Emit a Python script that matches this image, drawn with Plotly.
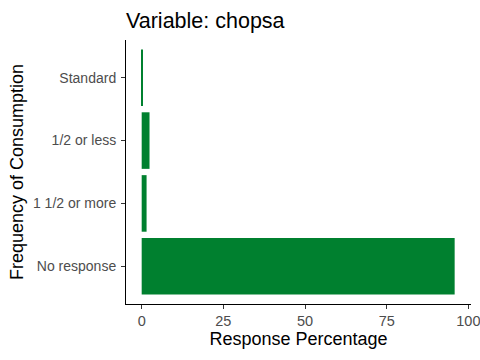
import plotly.graph_objects as go

categories = ["No response", "1 1/2 or more", "1/2 or less", "Standard"]
values = [95.8, 1.5, 2.4, 0.35]
x_ticks = [0, 25, 50, 75, 100]

fig = go.Figure(go.Bar(
    x=values, y=categories, orientation="h",
    marker=dict(color="#00802F", line=dict(width=0)),
))

fig.update_layout(
    width=480, height=360,
    margin=dict(l=126, r=9, t=40, b=56, autoexpand=False),
    paper_bgcolor="white", plot_bgcolor="white",
    font=dict(family="Liberation Sans, Arial, sans-serif"),
    title=dict(text="Variable: chopsa", x=126/480, xanchor="left",
               y=1 - 20/360, yanchor="middle",
               font=dict(size=21.5, color="black"), automargin=False),
    bargap=0.1,
    showlegend=False,
)
fig.update_xaxes(
    range=[-4.8, 100.8], tickvals=x_ticks, ticktext=[str(v) for v in x_ticks],
    showgrid=False, zeroline=False, showline=True, linecolor="black", linewidth=1,
    ticks="outside", ticklen=4, tickcolor="#333333", automargin=False,
    ticklabeloverflow="allow",
    tickfont=dict(size=14.5, color="#4D4D4D"),
    title=dict(text="Response Percentage", font=dict(size=18, color="black"), standoff=2),
)
fig.update_yaxes(
    categoryorder="array", categoryarray=categories, range=[-0.6, 3.6],
    showgrid=False, zeroline=False, showline=True, linecolor="black", linewidth=1,
    ticks="outside", ticklen=4, tickcolor="#333333", automargin=False,
    ticklabelstandoff=2,
    tickfont=dict(size=14, color="#4D4D4D"),
    title=dict(text="Frequency of Consumption", font=dict(size=18, color="black"), standoff=4),
)

fig.write_html("out.html", config={"displayModeBar": False},
               post_script="document.body.style.margin='0';")
